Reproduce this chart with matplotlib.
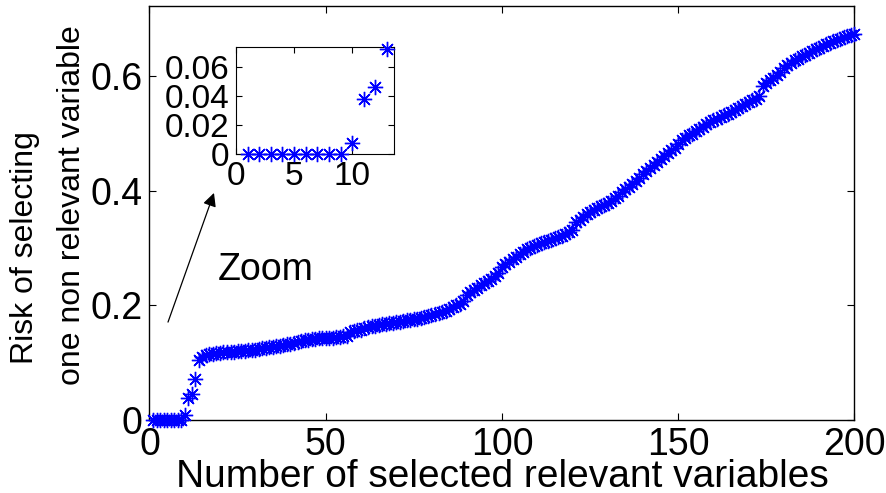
import matplotlib
matplotlib.use("Agg")
import matplotlib.pyplot as plt
import numpy as np

plt.rcParams['font.family'] = ['Liberation Sans', 'DejaVu Sans']

# Data
n_selected = list(range(1, 201))
risk = [
    0.000, 0.000, 0.000, 0.000, 0.000, 0.000, 0.000, 0.000, 0.000, 0.008,
    0.038, 0.046, 0.072, 0.105, 0.110, 0.113, 0.115, 0.116, 0.117, 0.117,
    0.118, 0.118, 0.119, 0.119, 0.120, 0.120, 0.121, 0.122, 0.122, 0.123,
    0.124, 0.125, 0.126, 0.127, 0.128, 0.129, 0.130, 0.131, 0.132, 0.133,
    0.135, 0.136, 0.138, 0.139, 0.140, 0.141, 0.142, 0.143, 0.143, 0.144,
    0.144, 0.144, 0.145, 0.145, 0.146, 0.147, 0.153, 0.155, 0.157, 0.158,
    0.160, 0.162, 0.164, 0.165, 0.166, 0.167, 0.168, 0.169, 0.170, 0.171,
    0.172, 0.173, 0.174, 0.175, 0.176, 0.177, 0.178, 0.180, 0.181, 0.183,
    0.185, 0.187, 0.189, 0.191, 0.194, 0.197, 0.200, 0.203, 0.207, 0.219,
    0.223, 0.227, 0.231, 0.235, 0.239, 0.243, 0.247, 0.252, 0.257, 0.267,
    0.272, 0.276, 0.281, 0.285, 0.290, 0.294, 0.298, 0.301, 0.304, 0.306,
    0.309, 0.311, 0.313, 0.315, 0.317, 0.320, 0.322, 0.325, 0.328, 0.331,
    0.345, 0.350, 0.355, 0.360, 0.364, 0.367, 0.370, 0.373, 0.376, 0.379,
    0.383, 0.387, 0.391, 0.398, 0.403, 0.407, 0.412, 0.418, 0.423, 0.429,
    0.434, 0.440, 0.445, 0.451, 0.456, 0.461, 0.466, 0.471, 0.475, 0.482,
    0.489, 0.493, 0.497, 0.500, 0.504, 0.508, 0.511, 0.516, 0.520, 0.523,
    0.526, 0.529, 0.532, 0.535, 0.538, 0.541, 0.545, 0.549, 0.552, 0.555,
    0.558, 0.561, 0.565, 0.584, 0.589, 0.594, 0.598, 0.602, 0.608, 0.614,
    0.620, 0.624, 0.628, 0.631, 0.635, 0.638, 0.641, 0.644, 0.647, 0.650,
    0.653, 0.656, 0.658, 0.661, 0.664, 0.666, 0.668, 0.670, 0.672, 0.674,
]
zoom_n = list(range(1, 14))
zoom_risk = [0.0, 0.0, 0.0, 0.0, 0.0, 0.0, 0.0, 0.0, 0.0, 0.0078, 0.038, 0.0464, 0.0724]

main_xticks = [0, 50, 100, 150, 200]
main_yticks = [0, 0.2, 0.4, 0.6]
main_yticklabels = ['0', '0.2', '0.4', '0.6']
inset_xticks = [0, 5, 10]
inset_yticks = [0, 0.02, 0.04, 0.06]
inset_yticklabels = ['0', '0.02', '0.04', '0.06']

ASTERISK = (8, 2, 0)

fig = plt.figure(figsize=(8.86, 4.93), dpi=100)
ax = fig.add_axes([0.1687, 0.148, 0.7957, 0.840])
ax.plot(n_selected, risk, linestyle='none', marker=ASTERISK, color='#0000ff',
        markersize=11, markeredgewidth=1.0, clip_on=False, zorder=3)
ax.set_xlim(0, 200)
ax.set_ylim(0, 0.723)
ax.set_xticks(main_xticks)
ax.set_xticklabels([str(t) for t in main_xticks])
ax.set_yticks(main_yticks)
ax.set_yticklabels(main_yticklabels)
ax.tick_params(direction='in', length=5, width=0.8, top=True, right=True,
               labelsize=27)
ax.tick_params(axis='x', pad=5)
ax.tick_params(axis='y', pad=5)
for s in ax.spines.values():
    s.set_linewidth(1.0)
ax.set_xlabel('Number of selected relevant variables', fontsize=28, labelpad=-3)

# two-line y label, placed line by line
fig.text(25 / 886, 1 - 248 / 493, 'Risk of selecting', rotation=90,
         fontsize=23, ha='center', va='center')
fig.text(72 / 886, 1 - 205 / 493, 'one non relevant variable', rotation=90,
         fontsize=23, ha='center', va='center')

ax.annotate('', xy=(18.3, 0.3965), xytext=(5.26, 0.171),
            arrowprops=dict(arrowstyle='-|>', color='black', lw=0.9,
                            mutation_scale=20, shrinkA=0, shrinkB=0))
ax.text(19.5, 0.262, 'Zoom', fontsize=27, ha='left', va='center')

ins = fig.add_axes([0.2664, 0.6876, 0.1783, 0.2171])
ins.plot(zoom_n, zoom_risk, linestyle='none', marker=ASTERISK, color='#0000ff',
         markersize=11, markeredgewidth=1.0, clip_on=False, zorder=3)
ins.set_xlim(0, 13.6)
ins.set_ylim(0, 0.074)
ins.set_xticks(inset_xticks)
ins.set_xticklabels([str(t) for t in inset_xticks])
ins.set_yticks(inset_yticks)
ins.set_yticklabels(inset_yticklabels)
ins.tick_params(direction='in', length=4, width=0.8, top=True, right=True,
                labelsize=24, pad=5)

fig.savefig('out.png', dpi=100)
